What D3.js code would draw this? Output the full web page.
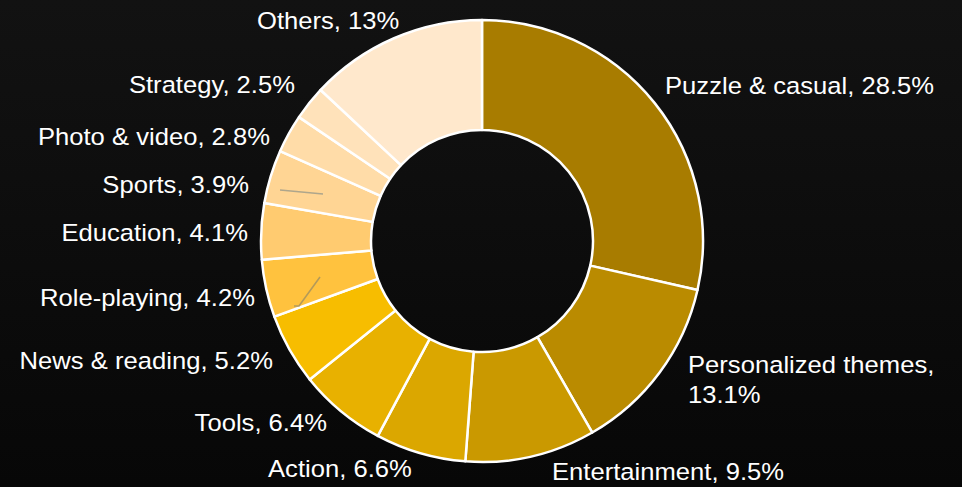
<!DOCTYPE html>
<html>
<head>
<meta charset="utf-8">
<script src="https://cdn.jsdelivr.net/npm/d3@7/dist/d3.min.js"></script>
<style>
html,body{margin:0;padding:0;background:#0c0c0c;}
svg{display:block;}
</style>
</head>
<body>
<svg id="chart" width="962" height="487"></svg>
<script>
// ---- data ----
const categories = ["Puzzle & casual","Personalized themes","Entertainment","Action","Tools","News & reading","Role-playing","Education","Sports","Photo & video","Strategy","Others"];
const shares = [28.5,13.1,9.5,6.6,6.4,5.2,4.2,4.1,3.9,2.8,2.5,13];
const shareLabels = ["28.5%","13.1%","9.5%","6.6%","6.4%","5.2%","4.2%","4.1%","3.9%","2.8%","2.5%","13%"];
const colors = ["#A87C00","#BA8B00","#CA9900","#DBA700","#E8B100","#F7BD00","#FFC23E","#FFCB70","#FFD594","#FFDCA8","#FFE2BA","#FFE8CC"];

// ---- layout (label anchors; lines split by "\n") ----
const labelLayout = [
  {x:665, y:94,  anchor:"start", lines:1},
  {x:688, y:373, anchor:"start", lines:2},
  {x:552, y:480, anchor:"start", lines:1},
  {x:268, y:477, anchor:"start", lines:1},
  {x:327, y:431, anchor:"end",   lines:1},
  {x:273, y:369, anchor:"end",   lines:1},
  {x:255, y:306, anchor:"end",   lines:1},
  {x:248, y:241, anchor:"end",   lines:1},
  {x:249, y:193, anchor:"end",   lines:1},
  {x:270, y:145, anchor:"end",   lines:1},
  {x:295, y:93,  anchor:"end",   lines:1},
  {x:257, y:29,  anchor:"start", lines:1}
];

const W = 962, H = 487;
const cx = 482, cy = 241, outerR = 221, innerR = 111;

const svg = d3.select("#chart");
const defs = svg.append("defs");
const grad = defs.append("linearGradient").attr("id","bg").attr("x1",0).attr("y1",0).attr("x2",0).attr("y2",1);
grad.append("stop").attr("offset","0%").attr("stop-color","#121212");
grad.append("stop").attr("offset","100%").attr("stop-color","#070707");
svg.append("rect").attr("width",W).attr("height",H).attr("fill","url(#bg)");

const pie = d3.pie().sort(null).value(d => d)(shares);
const arc = d3.arc().innerRadius(innerR).outerRadius(outerR);

const g = svg.append("g").attr("transform",`translate(${cx},${cy})`);
g.selectAll("path.slice").data(pie).join("path")
  .attr("class","slice")
  .attr("d",arc)
  .attr("fill",(d,i)=>colors[i])
  .attr("stroke","#ffffff")
  .attr("stroke-width",2.5)
  .attr("stroke-linejoin","round");

// faint leader-line remnants (Sports, Role-playing)
const leader = d3.line();
const sportsArc = pie[8], roleArc = pie[6];
function pt(a, r){ return [Math.sin(a)*r, -Math.cos(a)*r]; }
const sMid = (sportsArc.startAngle+sportsArc.endAngle)/2;
g.append("path").attr("d", leader([[-202,-51],[-159,-47]]))
  .attr("fill","none").attr("stroke","#9a9a8a").attr("stroke-width",1.6).attr("opacity",0.8);
g.append("path").attr("d", leader([[-162,36],[-183,65],[-188,65]]))
  .attr("fill","none").attr("stroke","#a09060").attr("stroke-width",1.6).attr("opacity",0.8);

// labels
const labels = svg.append("g")
  .attr("font-family","Liberation Sans, Arial, sans-serif")
  .attr("font-size",23.5)
  .attr("fill","#ffffff");

categories.forEach((c,i)=>{
  const L = labelLayout[i];
  const t = labels.append("text")
    .attr("transform",`translate(${L.x},${L.y}) scale(1.09,1)`)
    .attr("text-anchor",L.anchor);
  if(L.lines === 2){
    t.append("tspan").attr("x",0).attr("y",0).text(c + ",");
    t.append("tspan").attr("x",0).attr("y",30).text(shareLabels[i]);
  } else {
    t.text(c + ", " + shareLabels[i]);
  }
});
</script>
</body>
</html>
